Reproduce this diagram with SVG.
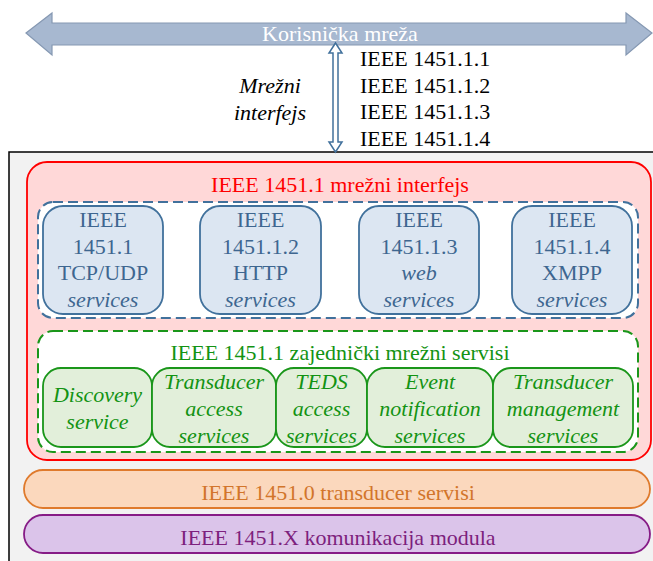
<svg xmlns="http://www.w3.org/2000/svg" width="653" height="561" viewBox="0 0 653 561" font-family="'Liberation Serif', 'Times New Roman', Times, 'DejaVu Serif', serif">
<style>
text{font-family:'Liberation Serif','Times New Roman',Times,'DejaVu Serif',serif;font-size:22px;text-anchor:middle}
.it{font-style:italic}
.blk{fill:#000;text-anchor:start}
.bt{fill:#3e6690}
.gt{fill:#139313}
.bbox{fill:#dce6f2;stroke:#41719c;stroke-width:1.8}
.gbox{fill:#e2efda;stroke:#1a961a;stroke-width:1.8}
</style>
<rect x="0" y="0" width="653" height="561" fill="#fff"/>
<g id="network">
<polygon points="26,33 52,13 52,23 626,23 626,13 652,33 626,55 626,45 52,45 52,55" fill="#a7b8d0" stroke="#8598b2" stroke-width="1.2"/>
<text x="340" y="41" fill="#fff" font-size="20">Korisnička mreža</text>
</g>
<g id="interface-label">
<text class="it" x="270" y="93" fill="#000">Mrežni</text>
<text class="it" x="270" y="120" fill="#000">interfejs</text>
<text class="blk" x="360" y="66">IEEE 1451.1.1</text>
<text class="blk" x="360" y="93">IEEE 1451.1.2</text>
<text class="blk" x="360" y="119">IEEE 1451.1.3</text>
<text class="blk" x="360" y="146">IEEE 1451.1.4</text>
</g>
<g id="outer">
<rect x="9" y="152" width="660" height="420" fill="#f2f2f2" stroke="#000" stroke-width="1.5"/>
</g>
<g id="connectors">
<polygon points="335.5,43 342,53 338,53 338,142 342,142 335.5,152 329,142 333,142 333,53 329,53" fill="#fff" stroke="#41719c" stroke-width="1.5" stroke-linejoin="miter"/>
</g>
<g id="net-interface">
<rect x="27" y="162" width="624" height="298" rx="20" fill="#ffd8d8" stroke="#ff0000" stroke-width="1.8"/>
<text x="340" y="192" fill="#ff0000">IEEE 1451.1 mrežni interfejs</text>
</g>
<g id="bindings">
<rect x="38" y="202" width="600" height="116" rx="15" fill="#fff" stroke="#41719c" stroke-width="2" stroke-dasharray="10,5"/>
</g>
<g id="tcp">
<rect class="bbox" x="43" y="206" width="120" height="108" rx="20"/>
<text class="bt" x="103" y="227">IEEE</text>
<text class="bt" x="103" y="254">1451.1</text>
<text class="bt" x="103" y="280">TCP/UDP</text>
<text class="bt it" x="103" y="307">services</text>
</g>
<g id="http">
<rect class="bbox" x="200" y="206" width="121" height="108" rx="20"/>
<text class="bt" x="260.5" y="227">IEEE</text>
<text class="bt" x="260.5" y="254">1451.1.2</text>
<text class="bt" x="260.5" y="280">HTTP</text>
<text class="bt it" x="260.5" y="307">services</text>
</g>
<g id="web">
<rect class="bbox" x="359" y="206" width="120" height="108" rx="20"/>
<text class="bt" x="419" y="227">IEEE</text>
<text class="bt" x="419" y="254">1451.1.3</text>
<text class="bt it" x="419" y="280">web</text>
<text class="bt it" x="419" y="307">services</text>
</g>
<g id="xmpp">
<rect class="bbox" x="512" y="206" width="120" height="108" rx="20"/>
<text class="bt" x="572" y="227">IEEE</text>
<text class="bt" x="572" y="254">1451.1.4</text>
<text class="bt" x="572" y="280">XMPP</text>
<text class="bt it" x="572" y="307">services</text>
</g>
<g id="common">
<rect x="38" y="331" width="600" height="121" rx="15" fill="#fff" stroke="#1a961a" stroke-width="2" stroke-dasharray="10,5"/>
<text class="gt" x="340" y="360">IEEE 1451.1 zajednički mrežni servisi</text>
</g>
<g id="discovery">
<rect class="gbox" x="43" y="368" width="109" height="79" rx="18"/>
<text class="gt it" x="97.5" y="402">Discovery</text>
<text class="gt it" x="97.5" y="429">service</text>
</g>
<g id="taccess">
<rect class="gbox" x="152" y="368" width="124" height="79" rx="18"/>
<text class="gt it" x="214" y="389">Transducer</text>
<text class="gt it" x="214" y="416">access</text>
<text class="gt it" x="214" y="443">services</text>
</g>
<g id="teds">
<rect class="gbox" x="276" y="368" width="91" height="79" rx="18"/>
<text class="gt it" x="321.5" y="389">TEDS</text>
<text class="gt it" x="321.5" y="416">access</text>
<text class="gt it" x="321.5" y="443">services</text>
</g>
<g id="event">
<rect class="gbox" x="367" y="368" width="126" height="79" rx="18"/>
<text class="gt it" x="430" y="389">Event</text>
<text class="gt it" x="430" y="416">notification</text>
<text class="gt it" x="430" y="443">services</text>
</g>
<g id="tmgmt">
<rect class="gbox" x="493" y="368" width="140" height="79" rx="18"/>
<text class="gt it" x="563" y="389">Transducer</text>
<text class="gt it" x="563" y="416">management</text>
<text class="gt it" x="563" y="443">services</text>
</g>
<g id="transducer-services">
<rect x="24" y="470" width="626" height="38" rx="19" fill="#fbd8bd" stroke="#df7a2c" stroke-width="1.8"/>
<text x="338" y="500" fill="#d2752b">IEEE 1451.0 transducer servisi</text>
</g>
<g id="comm-module">
<rect x="24" y="515" width="626" height="38" rx="19" fill="#dbc4ea" stroke="#861c86" stroke-width="1.8"/>
<text x="338" y="545" fill="#7d1f7d">IEEE 1451.X komunikacija modula</text>
</g>
</svg>
